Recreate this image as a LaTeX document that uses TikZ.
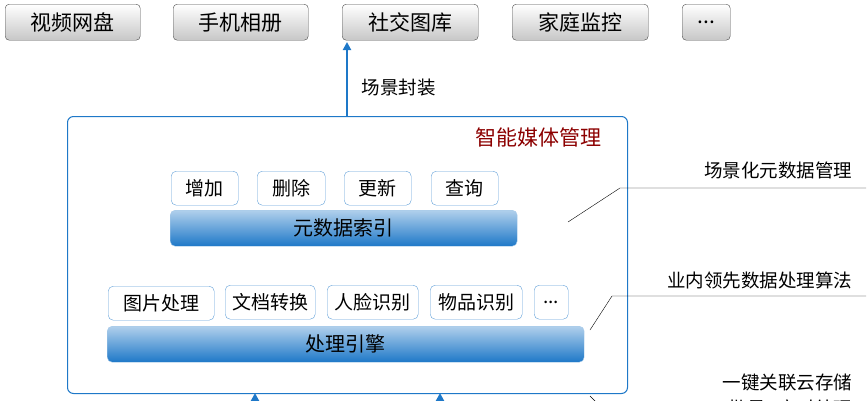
\documentclass[tikz,border=0pt]{standalone}
\usepackage{fontspec}
\setmainfont{Noto Sans CJK SC}
\usetikzlibrary{arrows.meta}
\definecolor{bl}{RGB}{30,120,200}
\tikzset{x=1pt,y=-1pt,
 top/.style={draw=black!70,rounded corners=4pt,top color=white,bottom color=black!22,font=\fontsize{21}{21}\selectfont,inner sep=0,minimum height=36,anchor=north west},
 sm/.style={draw=bl!70,rounded corners=5pt,fill=white,font=\fontsize{19}{19}\selectfont,inner sep=0,minimum height=34,anchor=north west},
 bar/.style={draw=bl!40,rounded corners=5pt,top color=bl!35,bottom color=bl,font=\fontsize{20}{20}\selectfont,inner sep=0,minimum height=36,anchor=north west},
 lbl/.style={font=\fontsize{18.5}{18.5}\selectfont,anchor=east},
 arr/.style={bl,line width=2pt,-{Triangle[length=8pt,width=8pt]}}}
\begin{document}
\begin{tikzpicture}
\useasboundingbox (0,0) rectangle (868,400);
\clip (0,0) rectangle (868,400);
\node[top,minimum width=135] (t1) at (5,4) {视频网盘};
\node[top,minimum width=135] (t2) at (173,4) {手机相册};
\node[top,minimum width=136] (t3) at (342,4) {社交图库};
\node[top,minimum width=136] (t4) at (512,4) {家庭监控};
\node[top,minimum width=48] (t5) at (682,4) {...};
\node[draw=bl,line width=1pt,rounded corners=6pt,minimum width=560,minimum height=277,anchor=north west,inner sep=0] (big) at (67,116) {};
\draw[arr] (347,116) -- (347,42);
\node[font=\fontsize{18.5}{18.5}\selectfont,anchor=west] (lab) at (358,88) {场景封装};
\node[font=\fontsize{21}{21}\selectfont,text=red!55!black,anchor=east] (title) at (605,137) {智能媒体管理};
\node[sm,minimum width=67] (a1) at (171,171) {增加};
\node[sm,minimum width=68] (a2) at (257,171) {删除};
\node[sm,minimum width=67] (a3) at (344,171) {更新};
\node[sm,minimum width=67] (a4) at (431,171) {查询};
\node[bar,minimum width=347] (b1) at (170,210) {元数据索引};
\node[sm,minimum width=106] (c1) at (108,286) {图片处理};
\node[sm,minimum width=90] (c2) at (225,285) {文档转换};
\node[sm,minimum width=91] (c3) at (327,285) {人脸识别};
\node[sm,minimum width=92] (c4) at (430,285) {物品识别};
\node[sm,minimum width=34] (c5) at (534,285) {...};
\node[bar,minimum width=477] (b2) at (107,326) {处理引擎};
\node[lbl] (r1) at (856,170) {场景化元数据管理};
\node[lbl] (r2) at (856,280) {业内领先数据处理算法};
\node[lbl] (r3) at (856,383) {一键关联云存储};
\node[lbl] (r4) at (856,408) {批量\&实时处理};
\draw (568,222) -- (620,188) -- (866,188);
\draw (590,330) -- (612,296) -- (866,296);
\draw (590,396) -- (600,406);
\draw[arr] (255,412) -- (255,393);
\draw[arr] (440,412) -- (440,393);
\end{tikzpicture}
\end{document}
